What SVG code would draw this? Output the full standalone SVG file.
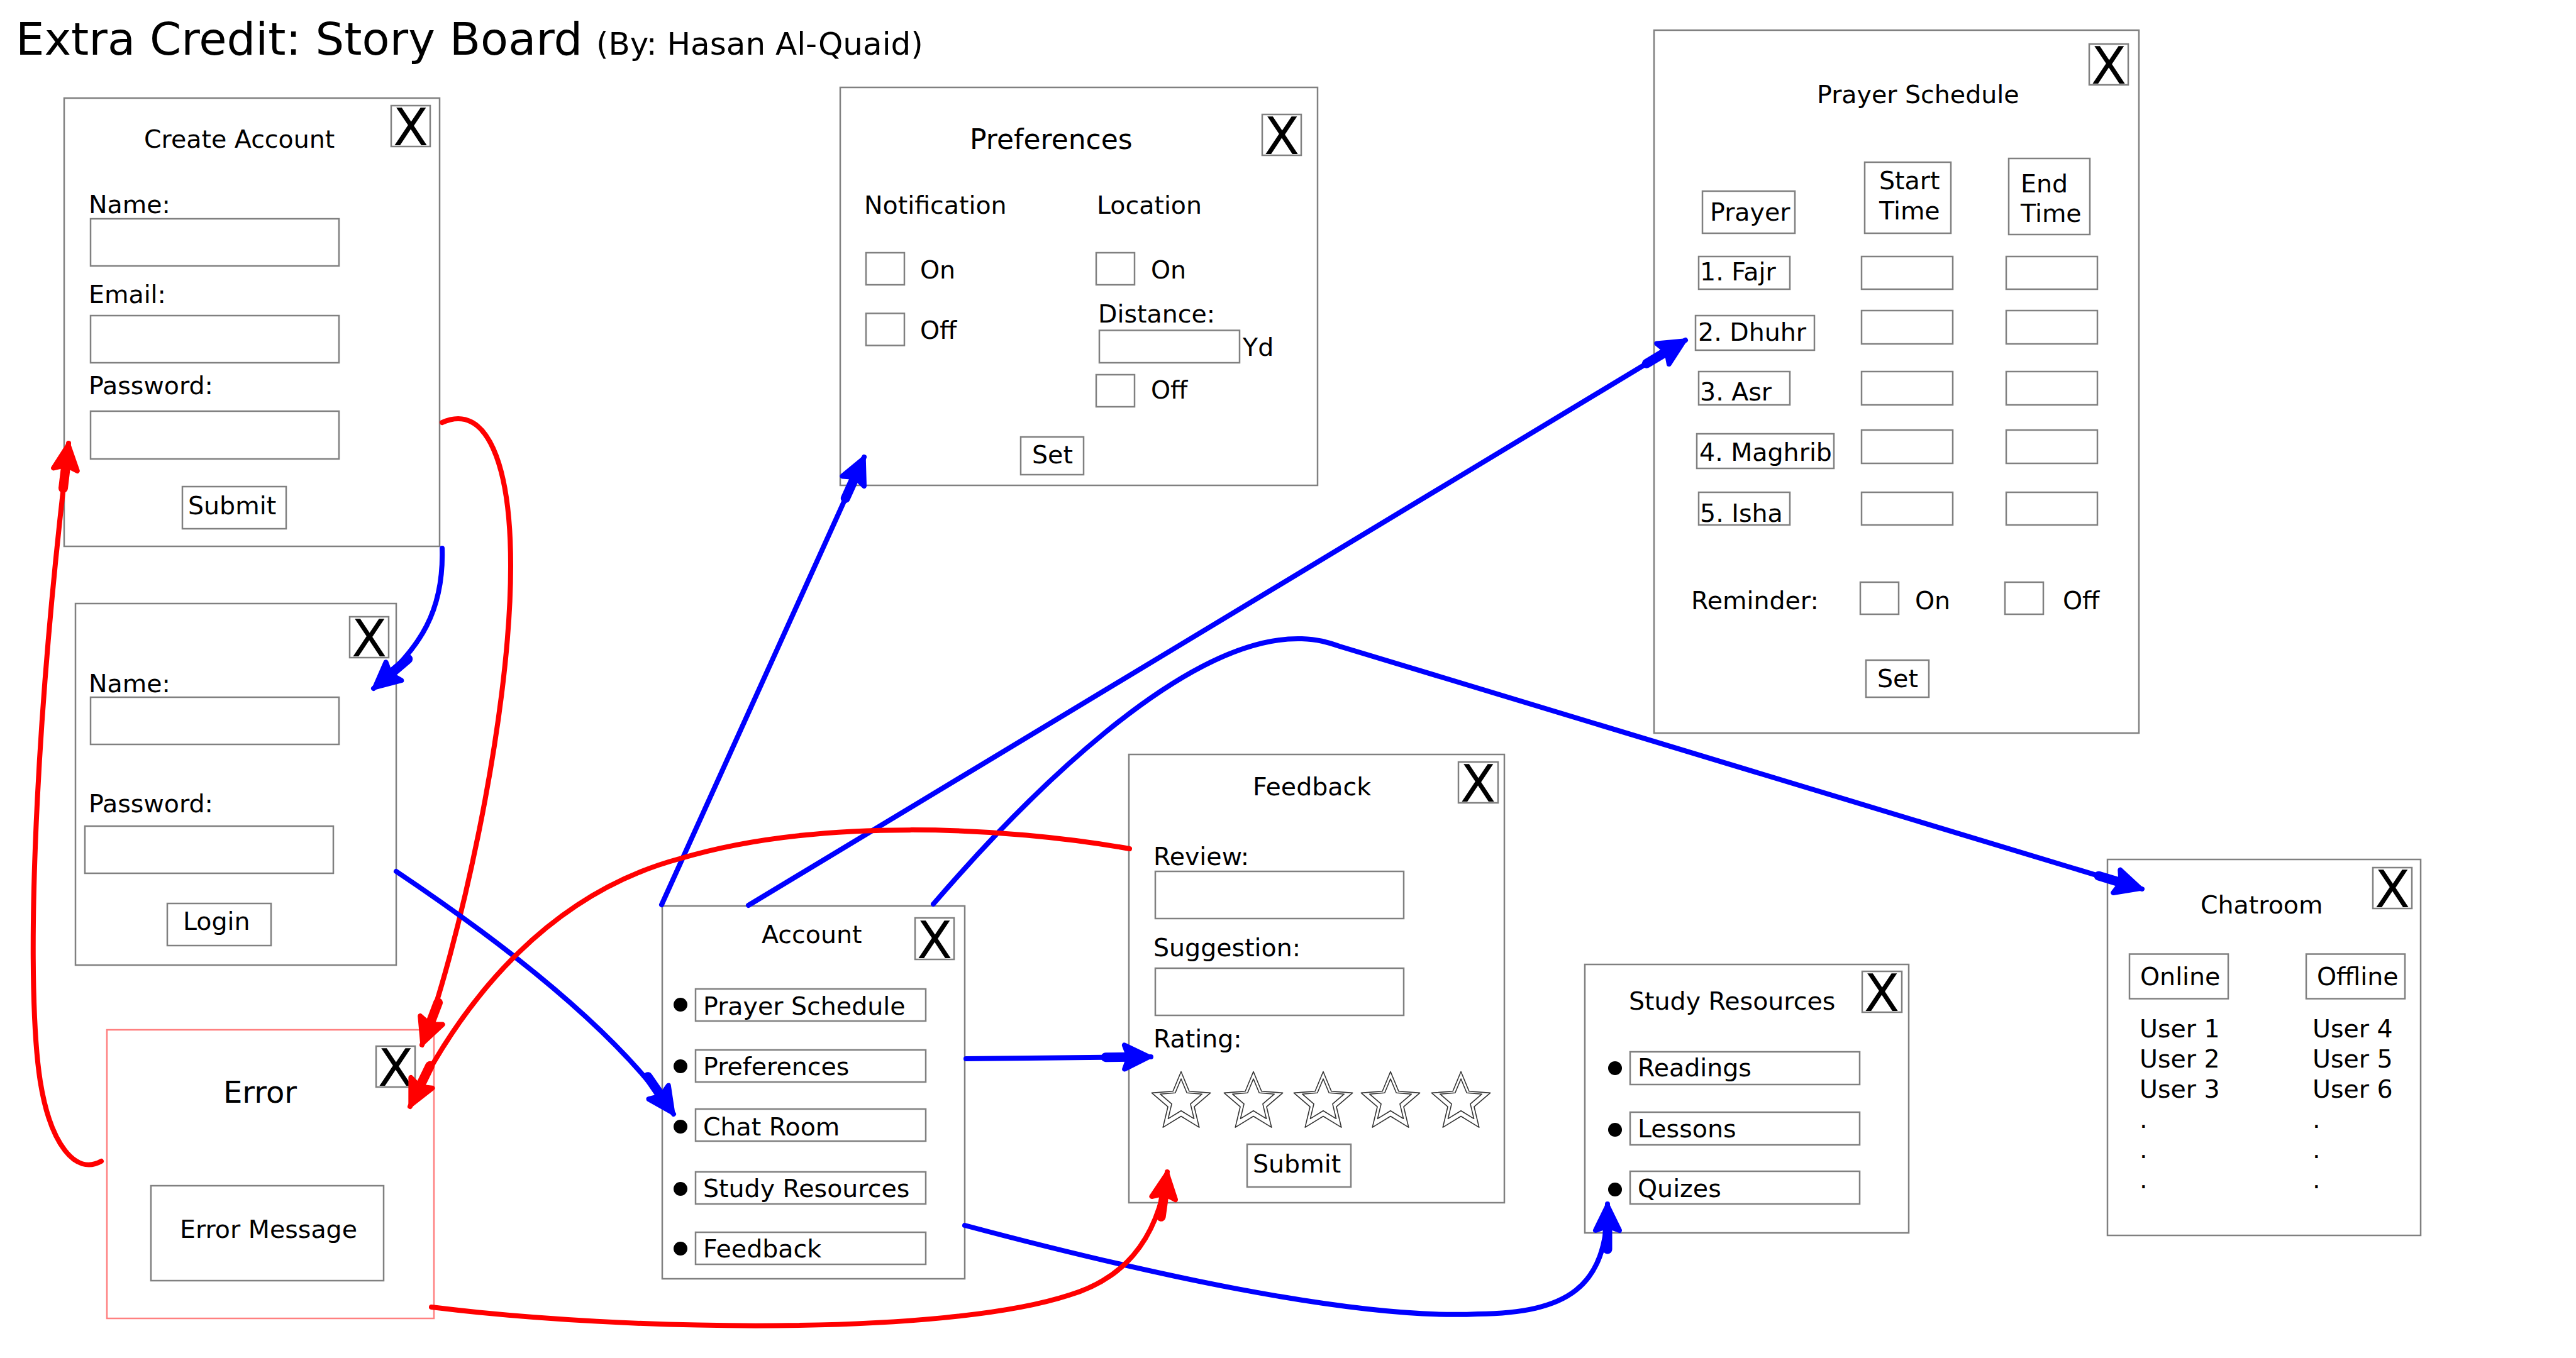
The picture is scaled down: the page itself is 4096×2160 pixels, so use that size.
<svg xmlns="http://www.w3.org/2000/svg" xmlns:xlink="http://www.w3.org/1999/xlink" width="4096" height="2160" viewBox="0 0 4096 2160">
<style>
.bg{fill:#fff}
.box{fill:#fff;stroke:#808080;stroke-width:2.5}
.err{fill:#fff;stroke:#ff8080;stroke-width:2.5}
.inp{fill:#fff;stroke:#808080;stroke-width:2.5}
.t{font-family:"DejaVu Sans","Noto Sans",sans-serif;font-size:39.5px;fill:#000}
.x{font-family:"DejaVu Sans","Noto Sans",sans-serif;font-size:82px;fill:#000;text-anchor:middle}
.dot{fill:#000}
.star{fill:#fff;stroke:#333;stroke-width:1.6;stroke-linejoin:round}
.c{fill:none;stroke-width:8;stroke-linecap:round;stroke-linejoin:round}
.blue{stroke:#0000ff}
.red{stroke:#ff0000}
</style>
<defs>
<marker id="ab" markerUnits="userSpaceOnUse" viewBox="-90 -30 95 60" markerWidth="95" markerHeight="60" refX="0" refY="0" orient="auto">
<path d="M-72,0 L-32,0" stroke="#0000ff" stroke-width="15" stroke-linecap="round" fill="none"/>
<path d="M-3,0 L-42,-19 L-35,0 L-42,19 Z" fill="#0000ff" stroke="#0000ff" stroke-width="8" stroke-linejoin="round"/>
</marker>
<marker id="ar" markerUnits="userSpaceOnUse" viewBox="-90 -30 95 60" markerWidth="95" markerHeight="60" refX="0" refY="0" orient="auto">
<path d="M-72,0 L-32,0" stroke="#ff0000" stroke-width="15" stroke-linecap="round" fill="none"/>
<path d="M-3,0 L-42,-19 L-35,0 L-42,19 Z" fill="#ff0000" stroke="#ff0000" stroke-width="8" stroke-linejoin="round"/>
</marker>
<g id="star">
<path class="star" d="M0,-49 L12.93,-17.8 L46.6,-15.14 L20.92,6.8 L28.8,39.64 L0,22 L-28.8,39.64 L-20.92,6.8 L-46.6,-15.14 L-12.93,-17.8 Z"/>
<path class="star" d="M0,-37.5 L9.23,-15.2 L33.29,-13.32 L14.93,2.35 L20.57,25.82 L0,13.2 L-20.57,25.82 L-14.93,2.35 L-33.29,-13.32 L-9.23,-15.2 Z"/>
</g>
</defs>
<rect class="bg" x="0" y="0" width="4096" height="2160"/>

<g id="title">
<text class="t" x="25" y="87" style="font-size:72px">Extra Credit: Story Board</text>
<text class="t" x="948" y="87" style="font-size:50px">(By: Hasan Al-Quaid)</text>
</g>

<g id="create-account">
<rect class="box" x="102" y="156" width="597" height="713"/>
<rect class="box" x="622" y="168" width="62" height="65"/>
<text class="x" x="653" y="231">X</text>
<text class="t" x="229" y="235">Create Account</text>
<text class="t" x="141" y="339">Name:</text>
<rect class="inp" x="144" y="348" width="395" height="75"/>
<text class="t" x="141" y="482">Email:</text>
<rect class="inp" x="144" y="502" width="395" height="75"/>
<text class="t" x="141" y="627">Password:</text>
<rect class="inp" x="144" y="654" width="395" height="76"/>
<rect class="inp" x="290" y="774" width="165" height="67"/>
<text class="t" x="299" y="818">Submit</text>
</g>

<g id="login">
<rect class="box" x="120" y="960" width="510" height="575"/>
<rect class="box" x="556" y="981" width="62" height="65"/>
<text class="x" x="587" y="1044">X</text>
<text class="t" x="141" y="1101">Name:</text>
<rect class="inp" x="144" y="1109" width="395" height="75"/>
<text class="t" x="141" y="1292">Password:</text>
<rect class="inp" x="135" y="1314" width="395" height="75"/>
<rect class="inp" x="266" y="1437" width="165" height="67"/>
<text class="t" x="291" y="1479">Login</text>
</g>

<g id="error">
<rect class="err" x="170" y="1638" width="520" height="459"/>
<rect class="box" x="598" y="1664" width="62" height="65"/>
<text class="x" x="629" y="1727">X</text>
<text class="t" x="355" y="1754" style="font-size:48px">Error</text>
<rect class="inp" x="240" y="1886" width="370" height="151"/>
<text class="t" x="286" y="1969">Error Message</text>
</g>

<g id="preferences">
<rect class="box" x="1336" y="139" width="759" height="633"/>
<rect class="box" x="2007" y="182" width="62" height="65"/>
<text class="x" x="2038" y="245">X</text>
<text class="t" x="1542" y="237" style="font-size:44px">Preferences</text>
<text class="t" x="1374" y="340">Notification</text>
<text class="t" x="1744" y="340">Location</text>
<rect class="inp" x="1377" y="402" width="61" height="51"/>
<text class="t" x="1463" y="443">On</text>
<rect class="inp" x="1377" y="498.5" width="61" height="51"/>
<text class="t" x="1463" y="539">Off</text>
<rect class="inp" x="1743" y="402" width="61" height="51"/>
<text class="t" x="1830" y="443">On</text>
<text class="t" x="1746" y="513">Distance:</text>
<rect class="inp" x="1748" y="525.5" width="223" height="51.5"/>
<text class="t" x="1976" y="566">Yd</text>
<rect class="inp" x="1743" y="596" width="61" height="51"/>
<text class="t" x="1830" y="634">Off</text>
<rect class="inp" x="1623" y="695" width="100" height="60"/>
<text class="t" x="1641" y="737">Set</text>
</g>

<g id="prayer-schedule">
<rect class="box" x="2630" y="48" width="771" height="1118"/>
<rect class="box" x="3322" y="70" width="62" height="65"/>
<text class="x" x="3353" y="133">X</text>
<text class="t" x="2889" y="164">Prayer Schedule</text>
<rect class="inp" x="2707" y="304" width="147" height="67"/>
<text class="t" x="2719" y="351">Prayer</text>
<rect class="inp" x="2965" y="258" width="137" height="113"/>
<text class="t" x="2988" y="301">Start</text>
<text class="t" x="2988" y="349">Time</text>
<rect class="inp" x="3194" y="252" width="129" height="121"/>
<text class="t" x="3213" y="306">End</text>
<text class="t" x="3213" y="353">Time</text>
<rect class="inp" x="2701" y="408" width="145" height="52"/>
<text class="t" x="2703" y="446">1. Fajr</text>
<rect class="inp" x="2696" y="502" width="189" height="55"/>
<text class="t" x="2700" y="542">2. Dhuhr</text>
<rect class="inp" x="2701" y="591" width="145" height="53"/>
<text class="t" x="2703" y="637">3. Asr</text>
<rect class="inp" x="2698" y="690" width="218" height="55"/>
<text class="t" x="2702" y="733">4. Maghrib</text>
<rect class="inp" x="2701" y="783" width="145" height="52"/>
<text class="t" x="2703" y="830">5. Isha</text>
<rect class="inp" x="2960" y="408" width="145" height="52"/>
<rect class="inp" x="2960" y="494" width="145" height="53"/>
<rect class="inp" x="2960" y="591" width="145" height="53"/>
<rect class="inp" x="2960" y="684" width="145" height="53"/>
<rect class="inp" x="2960" y="783" width="145" height="52"/>
<rect class="inp" x="3190" y="408" width="145" height="52"/>
<rect class="inp" x="3190" y="494" width="145" height="53"/>
<rect class="inp" x="3190" y="591" width="145" height="53"/>
<rect class="inp" x="3190" y="684" width="145" height="53"/>
<rect class="inp" x="3190" y="783" width="145" height="52"/>
<text class="t" x="2689" y="969">Reminder:</text>
<rect class="inp" x="2958" y="926" width="61" height="51"/>
<text class="t" x="3045" y="969">On</text>
<rect class="inp" x="3188" y="926" width="61" height="51"/>
<text class="t" x="3280" y="969">Off</text>
<rect class="inp" x="2967" y="1050" width="100" height="59"/>
<text class="t" x="2985" y="1093">Set</text>
</g>

<g id="account">
<rect class="box" x="1053" y="1441" width="481" height="593"/>
<rect class="box" x="1455" y="1460" width="62" height="66"/>
<text class="x" x="1486" y="1524">X</text>
<text class="t" x="1211" y="1500">Account</text>
<circle class="dot" cx="1082" cy="1598" r="11"/>
<rect class="inp" x="1106" y="1573" width="366" height="51"/>
<text class="t" x="1118" y="1614">Prayer Schedule</text>
<circle class="dot" cx="1082" cy="1696" r="11"/>
<rect class="inp" x="1106" y="1670" width="366" height="51"/>
<text class="t" x="1118" y="1710">Preferences</text>
<circle class="dot" cx="1082" cy="1792" r="11"/>
<rect class="inp" x="1106" y="1764" width="366" height="51"/>
<text class="t" x="1118" y="1806">Chat Room</text>
<circle class="dot" cx="1082" cy="1891" r="11"/>
<rect class="inp" x="1106" y="1864" width="366" height="51"/>
<text class="t" x="1118" y="1904">Study Resources</text>
<circle class="dot" cx="1082" cy="1986" r="11"/>
<rect class="inp" x="1106" y="1960" width="366" height="51"/>
<text class="t" x="1118" y="2000">Feedback</text>
</g>

<g id="feedback">
<rect class="box" x="1795" y="1200" width="597" height="713"/>
<rect class="box" x="2319" y="1212" width="63" height="65"/>
<text class="x" x="2350" y="1275">X</text>
<text class="t" x="1992" y="1265">Feedback</text>
<text class="t" x="1834" y="1376">Review:</text>
<rect class="inp" x="1837" y="1386" width="395" height="75"/>
<text class="t" x="1834" y="1521">Suggestion:</text>
<rect class="inp" x="1837" y="1540" width="395" height="75"/>
<text class="t" x="1834" y="1666">Rating:</text>
<use xlink:href="#star" x="1878" y="1753.5"/>
<use xlink:href="#star" x="1993" y="1753.5"/>
<use xlink:href="#star" x="2104" y="1753.5"/>
<use xlink:href="#star" x="2211" y="1753.5"/>
<use xlink:href="#star" x="2323" y="1753.5"/>
<rect class="inp" x="1983" y="1820" width="165" height="68"/>
<text class="t" x="1992" y="1865">Submit</text>
</g>

<g id="study-resources">
<rect class="box" x="2520" y="1534" width="515" height="427"/>
<rect class="box" x="2961" y="1545" width="63" height="65"/>
<text class="x" x="2992" y="1608">X</text>
<text class="t" x="2590" y="1606">Study Resources</text>
<circle class="dot" cx="2568" cy="1699" r="11"/>
<rect class="inp" x="2592" y="1673" width="365" height="52"/>
<text class="t" x="2604" y="1712">Readings</text>
<circle class="dot" cx="2568" cy="1797" r="11"/>
<rect class="inp" x="2592" y="1769" width="365" height="52"/>
<text class="t" x="2604" y="1809">Lessons</text>
<circle class="dot" cx="2568" cy="1892" r="11"/>
<rect class="inp" x="2592" y="1863" width="365" height="52"/>
<text class="t" x="2604" y="1904">Quizes</text>
</g>

<g id="chatroom">
<rect class="box" x="3351" y="1367" width="498" height="598"/>
<rect class="box" x="3773" y="1380" width="62" height="65"/>
<text class="x" x="3804" y="1443">X</text>
<text class="t" x="3499" y="1453">Chatroom</text>
<rect class="inp" x="3386" y="1517.5" width="157" height="71"/>
<text class="t" x="3403" y="1567">Online</text>
<rect class="inp" x="3667" y="1517.5" width="157" height="71"/>
<text class="t" x="3684" y="1567">Offline</text>
<text class="t" x="3402" y="1650">User 1</text>
<text class="t" x="3402" y="1698">User 2</text>
<text class="t" x="3402" y="1746">User 3</text>
<text class="t" x="3402" y="1794">.</text>
<text class="t" x="3402" y="1842">.</text>
<text class="t" x="3402" y="1890">.</text>
<text class="t" x="3677" y="1650">User 4</text>
<text class="t" x="3677" y="1698">User 5</text>
<text class="t" x="3677" y="1746">User 6</text>
<text class="t" x="3677" y="1794">.</text>
<text class="t" x="3677" y="1842">.</text>
<text class="t" x="3677" y="1890">.</text>
</g>

<g id="connectors">
<path class="c red" marker-end="url(#ar)" d="M703,672 C775,640 812,740 812,900 C812,1150 725,1520 671,1662"/>
<path class="c red" marker-end="url(#ar)" d="M161,1847 C120,1870 80,1820 64,1720 C42,1580 50,1200 109,705"/>
<path class="c blue" marker-end="url(#ab)" d="M703,872 C706,970 670,1030 594,1095"/>
<path class="c blue" marker-end="url(#ab)" d="M630,1386 C800,1500 980,1640 1071,1772"/>
<path class="c blue" marker-end="url(#ab)" d="M1052,1439 L1374,727"/>
<path class="c blue" marker-end="url(#ab)" d="M1190,1440 L2680,541"/>
<path class="c blue" marker-end="url(#ab)" d="M1484,1438 C1620,1280 1880,1010 2070,1016 C2095,1017 2110,1021 2130,1028 L3406,1414"/>
<path class="c blue" marker-end="url(#ab)" d="M1536,1684 L1830,1681"/>
<path class="c blue" marker-end="url(#ab)" d="M1534,1949 C1800,2020 2150,2100 2350,2090 C2490,2088 2556,2050 2556,1915"/>
<path class="c red" marker-end="url(#ar)" d="M1796,1350 C1600,1315 1300,1300 1080,1366 C880,1420 740,1580 652,1760"/>
<path class="c red" marker-end="url(#ar)" d="M686,2079 C1000,2118 1500,2125 1700,2060 C1780,2036 1840,1980 1856,1864"/>
</g>
</svg>
